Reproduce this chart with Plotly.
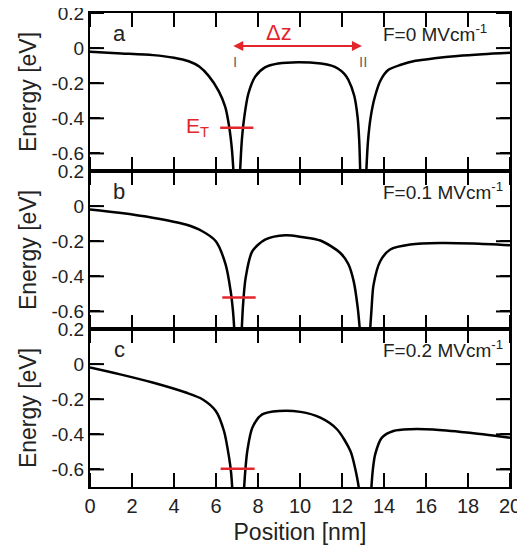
import plotly.graph_objects as go
from plotly.subplots import make_subplots

# ---------------- data ----------------
# panel a : F = 0
xa = [0, 1.5, 3, 4, 4.7, 5.2, 5.65, 6.13, 6.44, 6.63, 6.76, 6.84, None,
      7.14, 7.23, 7.35, 7.54, 7.86, 8.33, 8.96, 9.9, 11.0, 11.5, 11.8, 12.1, 12.3, 12.58, 12.74, 12.82, 12.87, None,
      13.15, 13.24, 13.37, 13.56, 13.84, 14.2, 14.8, 15.5, 16.4, 17.5, 18.7, 20]
ya = [-0.021, -0.03, -0.04, -0.055, -0.075, -0.105, -0.158, -0.245, -0.335, -0.45, -0.58, -0.72, None,
      -0.72, -0.526, -0.39, -0.26, -0.164, -0.11, -0.088, -0.08, -0.088, -0.1, -0.116, -0.145, -0.18, -0.27, -0.39, -0.526, -0.72, None,
      -0.72, -0.526, -0.39, -0.28, -0.183, -0.125, -0.095, -0.072, -0.058, -0.045, -0.035, -0.027]

# panel b : F = 0.1 MV/cm
xb = [0, 1.39, 2.98, 4.56, 5.35, 5.99, 6.46, 6.7, 6.81, 6.88, None,
      7.22, 7.29, 7.41, 7.73, 8.36, 9.31, 10.1, 10.97, 11.92, 12.3, 12.56, 12.75, 12.86, None,
      13.33, 13.41, 13.5, 13.82, 14.3, 15.25, 16.67, 18.25, 20]
yb = [-0.019, -0.038, -0.066, -0.105, -0.143, -0.2, -0.333, -0.486, -0.6, -0.72, None,
      -0.72, -0.56, -0.41, -0.257, -0.19, -0.166, -0.176, -0.196, -0.267, -0.33, -0.43, -0.58, -0.72, None,
      -0.72, -0.58, -0.45, -0.314, -0.247, -0.219, -0.21, -0.213, -0.223]

# panel c : F = 0.2 MV/cm
xc = [0, 1.39, 2.98, 4.56, 5.35, 5.99, 6.38, 6.62, 6.72, 6.78, None,
      7.33, 7.4, 7.49, 7.73, 8.2, 9.0, 10.02, 10.97, 11.76, 12.4, 12.62, 12.74, 12.82, None,
      13.39, 13.47, 13.58, 13.9, 14.45, 15.25, 16.35, 17.94, 20]
yc = [-0.019, -0.057, -0.105, -0.162, -0.2, -0.267, -0.381, -0.53, -0.62, -0.72, None,
      -0.72, -0.6, -0.495, -0.362, -0.286, -0.267, -0.272, -0.305, -0.371, -0.495, -0.59, -0.66, -0.72, None,
      -0.72, -0.6, -0.514, -0.419, -0.381, -0.371, -0.373, -0.39, -0.419]

# trap level E_T (red bars)
et_x = [[6.2, 7.78], [6.3, 7.89], [6.22, 7.84]]
et_y = [-0.453, -0.52, -0.596]

panel_letters = ["a", "b", "c"]
field_labels = ["F=0 MVcm<sup>-1</sup>", "F=0.1 MVcm<sup>-1</sup>", "F=0.2 MVcm<sup>-1</sup>"]

x_ticks = [0, 2, 4, 6, 8, 10, 12, 14, 16, 18, 20]
y_ticks = [0.2, 0, -0.2, -0.4, -0.6]
y_ticktext = ["0.2", "0", "-0.2", "-0.4", "-0.6"]

X_RANGE = [0, 20]
Y_RANGE = [-0.7, 0.2]

# ---------------- figure ----------------
FONT = "Liberation Sans, Arial, sans-serif"
RED = "#e3262b"
TXT = "#222"

W, H = 517, 537                      # page body adds an 8px margin around the figure
M = dict(l=82, r=15, t=5, b=58)
TICK_PX = 10

fig = make_subplots(rows=3, cols=1, shared_xaxes=True, vertical_spacing=0)

curves = [(xa, ya), (xb, yb), (xc, yc)]
for i, (xs, ys) in enumerate(curves):
    r = i + 1
    # inside tick marks as line-shaped markers centred on the frame (outer half is clipped away)
    fig.add_trace(go.Scatter(x=x_ticks * 2, y=[Y_RANGE[0]] * len(x_ticks) + [Y_RANGE[1]] * len(x_ticks),
                             mode="markers", cliponaxis=True,
                             marker=dict(symbol="line-ns", size=2 * TICK_PX, color="black",
                                         line=dict(color="black", width=2)),
                             showlegend=False, hoverinfo="skip"), row=r, col=1)
    fig.add_trace(go.Scatter(x=[X_RANGE[0]] * len(y_ticks) + [X_RANGE[1]] * len(y_ticks), y=y_ticks * 2,
                             mode="markers", cliponaxis=True,
                             marker=dict(symbol="line-ew", size=2 * TICK_PX, color="black",
                                         line=dict(color="black", width=2)),
                             showlegend=False, hoverinfo="skip"), row=r, col=1)

    fig.add_trace(go.Scatter(x=xs, y=ys, mode="lines",
                             line=dict(color="black", width=2.5, shape="spline", smoothing=0.8),
                             connectgaps=False, showlegend=False, hoverinfo="skip"), row=r, col=1)
    fig.add_trace(go.Scatter(x=et_x[i], y=[et_y[i], et_y[i]], mode="lines", line=dict(color=RED, width=2.5),
                             showlegend=False, hoverinfo="skip"), row=r, col=1)

for i in range(3):
    r = i + 1
    xref = "x" if r == 1 else f"x{r}"
    yref = "y" if r == 1 else f"y{r}"
    fig.add_annotation(x=1.4, y=0.085, xref=xref, yref=yref, text=panel_letters[i], showarrow=False,
                       font=dict(family=FONT, size=22, color=TXT), xanchor="center", yanchor="middle")
    fig.add_annotation(x=13.85, y=0.088, xref=xref, yref=yref, text=field_labels[i], showarrow=False,
                       font=dict(family=FONT, size=19, color=TXT), xanchor="left", yanchor="middle")

# E_T label, Delta z arrow and I / II markers on panel a
fig.add_annotation(x=5.75, y=-0.45, xref="x", yref="y", text="E<sub>T</sub>", showarrow=False,
                   font=dict(family=FONT, size=21, color=RED), xanchor="right", yanchor="middle")
fig.add_annotation(x=12.95, y=0.012, ax=6.75, ay=0.012, xref="x", yref="y", axref="x", ayref="y",
                   text="", showarrow=True, arrowside="end+start", arrowhead=2, arrowsize=1.0,
                   arrowwidth=2, arrowcolor=RED)
fig.add_annotation(x=9.0, y=0.088, xref="x", yref="y", text="\u0394z", showarrow=False,
                   font=dict(family=FONT, size=22, color=RED), xanchor="center", yanchor="middle")
fig.add_annotation(x=6.89, y=-0.074, xref="x", yref="y", text="I", showarrow=False,
                   font=dict(family=FONT, size=15, color="#666"), xanchor="center", yanchor="middle")
fig.add_annotation(x=13.0, y=-0.074, xref="x", yref="y", text="II", showarrow=False,
                   font=dict(family=FONT, size=15, color="#666"), xanchor="center", yanchor="middle")

axis_common = dict(showgrid=False, zeroline=False, showline=True, linecolor="black", linewidth=2,
                   mirror="allticks", automargin=False, ticks="inside", ticklen=TICK_PX, tickwidth=2,
                   tickcolor="#000000", ticklabeloverflow="allow")

for r in range(1, 4):
    fig.update_xaxes(range=X_RANGE, tickvals=x_ticks, ticktext=[str(t) for t in x_ticks], **axis_common,
                     tickfont=dict(family=FONT, size=20, color=TXT), row=r, col=1)
    fig.update_yaxes(range=Y_RANGE, tickvals=y_ticks, ticktext=y_ticktext, **axis_common,
                     tickfont=dict(family=FONT, size=19, color=TXT),
                     title=dict(text="Energy [eV]", font=dict(family=FONT, size=23, color=TXT), standoff=8),
                     row=r, col=1)

fig.update_xaxes(title=dict(text="Position [nm]", font=dict(family=FONT, size=23, color=TXT), standoff=8), row=3, col=1)

fig.update_layout(width=W, height=H, margin=M,
                  plot_bgcolor="white", paper_bgcolor="white", showlegend=False)

fig.write_html("out.html")
